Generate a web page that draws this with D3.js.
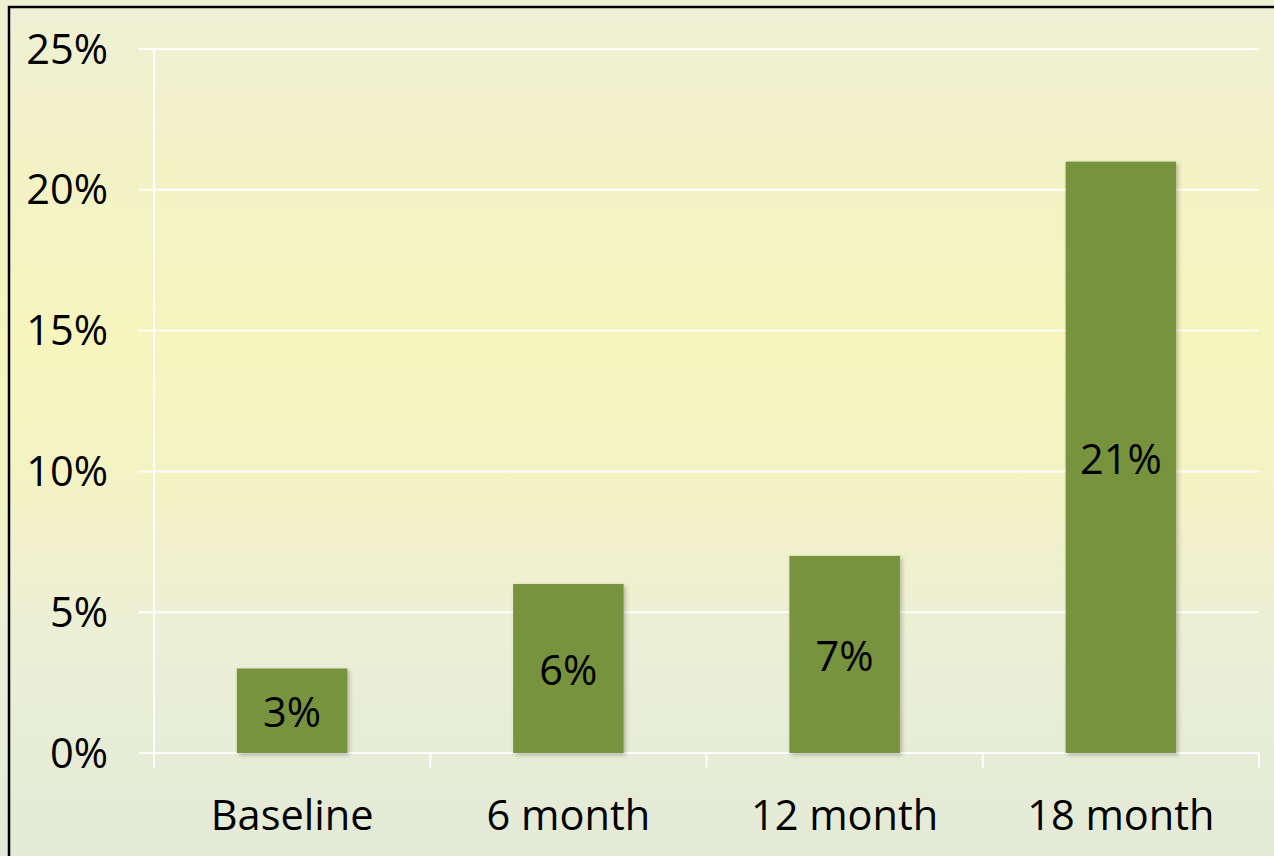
<!DOCTYPE html>
<html><head><meta charset="utf-8">
<script src="https://cdn.jsdelivr.net/npm/d3@7"></script>
<style>html,body{margin:0;padding:0;overflow:hidden;background:#eef0d4}</style>
</head><body>
<script>
const categories = ["Baseline", "6 month", "12 month", "18 month"];
const values = [3, 6, 7, 21];
const valueLabels = ["3%", "6%", "7%", "21%"];
const yTicks = [0, 5, 10, 15, 20, 25];
const yTickLabels = ["0%", "5%", "10%", "15%", "20%", "25%"];

const W = 1274, H = 856;
const svg = d3.select("body").append("svg").attr("width", W).attr("height", H);
const defs = svg.append("defs");
const g = defs.append("linearGradient").attr("id","bg").attr("x1",0).attr("y1",0).attr("x2",0).attr("y2",1);
[[0,"#eef0d4"],[0.2,"#f2f2c6"],[0.4,"#f7f5bd"],[0.55,"#f4f3c4"],[0.75,"#ebefd6"],[1,"#e3ead6"]].forEach(([o,c])=>g.append("stop").attr("offset",o).attr("stop-color",c));
const f = defs.append("filter").attr("id","sh").attr("x","-10%").attr("y","-10%").attr("width","130%").attr("height","130%");
f.append("feDropShadow").attr("dx",2).attr("dy",2).attr("stdDeviation",2).attr("flood-color","#000").attr("flood-opacity",0.25);

svg.append("rect").attr("width",W).attr("height",H).attr("fill","url(#bg)");
svg.append("rect").attr("x",9).attr("y",7).attr("width",W+20).attr("height",H+20)
  .attr("fill","none").attr("stroke","#000").attr("stroke-width",2.5);

const x0 = 154, x1 = 1259, yTop = 49, yBot = 753;
const x = d3.scaleBand().domain(categories).range([x0, x1]).paddingInner(0.6).paddingOuter(0.3);
const y = d3.scaleLinear().domain([0, 25]).range([yBot, yTop]);
const step = x.step();

const font = "'Open Sans', sans-serif";
const fs = 41.5;

// gridlines
svg.append("g").selectAll("line").data(yTicks).join("line")
  .attr("x1", x0 - 15).attr("x2", x1).attr("y1", d => y(d)).attr("y2", d => y(d))
  .attr("stroke", "#ffffff").attr("stroke-width", 2).attr("stroke-opacity", 0.9);
// y axis line
svg.append("line").attr("x1",x0).attr("x2",x0).attr("y1",yTop).attr("y2",yBot+15)
  .attr("stroke","#fff").attr("stroke-width",2).attr("stroke-opacity",0.9);
// category ticks
const catTicks = d3.range(categories.length + 1).map(i => x0 + i * step);
svg.append("g").selectAll("line").data(catTicks.slice(1)).join("line")
  .attr("x1", d => d).attr("x2", d => d).attr("y1", yBot).attr("y2", yBot + 15)
  .attr("stroke", "#fff").attr("stroke-width", 2).attr("stroke-opacity", 0.9);

// y labels
svg.append("g").selectAll("text").data(yTicks).join("text")
  .attr("x", 108).attr("y", d => y(d)).attr("dy", "0.35em").attr("text-anchor", "end")
  .attr("font-family", font).attr("font-size", fs).attr("fill", "#000")
  .text((d, i) => yTickLabels[i]);

// bars
svg.append("g").selectAll("rect").data(values).join("rect")
  .attr("x", (d, i) => x(categories[i])).attr("width", x.bandwidth())
  .attr("y", d => y(d)).attr("height", d => yBot - y(d))
  .attr("fill", "#77933c").attr("filter", "url(#sh)");

// value labels
svg.append("g").selectAll("text").data(values).join("text")
  .attr("x", (d, i) => x(categories[i]) + x.bandwidth() / 2)
  .attr("y", d => (y(d) + yBot) / 2 + 2).attr("dy", "0.35em").attr("text-anchor", "middle")
  .attr("font-family", font).attr("font-size", fs).attr("fill", "#000")
  .text((d, i) => valueLabels[i]);

// x labels
svg.append("g").selectAll("text").data(categories).join("text")
  .attr("x", d => x(d) + x.bandwidth() / 2).attr("y", 815).attr("dy", "0.35em")
  .attr("text-anchor", "middle").attr("font-family", font).attr("font-size", fs).attr("fill", "#000")
  .text(d => d);
</script>
</body></html>
